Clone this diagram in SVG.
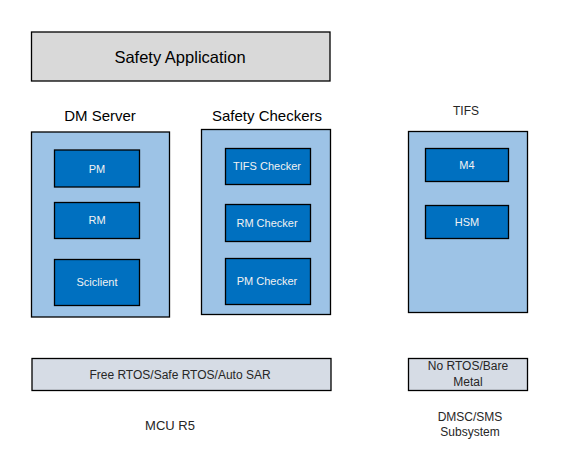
<svg xmlns="http://www.w3.org/2000/svg" width="566" height="453" viewBox="0 0 566 453">
<style>
text{font-family:"Liberation Sans",Arial,sans-serif;text-anchor:middle;dominant-baseline:central}
.gray{fill:#D9D9D9;stroke:#000;stroke-width:1.3}
.os{fill:#D6DCE5;stroke:#000;stroke-width:1.3}
.outer{fill:#9DC3E6;stroke:#000;stroke-width:1.3}
.inner{fill:#0070C0;stroke:#000;stroke-width:1.3}
.it{fill:#F2F2F2;font-size:11px}
.hd{fill:#000;font-size:15px}
.sm{fill:#262626;font-size:12px}
</style>
<rect width="566" height="453" fill="#fff"/>
<g id="safety-application">
<rect class="gray" x="31.5" y="32" width="298.5" height="49"/>
<text class="hd" x="180" y="56.5" style="font-size:16.5px">Safety Application</text>
</g>
<g id="dm-server">
<text class="hd" x="100" y="115">DM Server</text>
<rect class="outer" x="31.5" y="132" width="138" height="185"/>
<g id="pm"><rect class="inner" x="54.5" y="150" width="85" height="37"/><text class="it" x="97" y="168.5">PM</text></g>
<g id="rm"><rect class="inner" x="54.5" y="202.5" width="85" height="36"/><text class="it" x="97" y="220">RM</text></g>
<g id="sciclient"><rect class="inner" x="54.5" y="259.5" width="85" height="46"/><text class="it" x="97" y="282">Sciclient</text></g>
</g>
<g id="safety-checkers">
<text class="hd" x="267" y="115">Safety Checkers</text>
<rect class="outer" x="201.5" y="129.5" width="129" height="185"/>
<g id="tifs-checker"><rect class="inner" x="225.5" y="148.5" width="85" height="36"/><text class="it" x="267" y="166">TIFS Checker</text></g>
<g id="rm-checker"><rect class="inner" x="225.5" y="204.5" width="85" height="37"/><text class="it" x="267" y="223">RM Checker</text></g>
<g id="pm-checker"><rect class="inner" x="225.5" y="258.5" width="85" height="46"/><text class="it" x="267" y="281">PM Checker</text></g>
</g>
<g id="tifs">
<text class="sm" x="466" y="111">TIFS</text>
<rect class="outer" x="408.5" y="131.5" width="119" height="181"/>
<g id="m4"><rect class="inner" x="425.5" y="148.5" width="83" height="33"/><text class="it" x="467" y="165">M4</text></g>
<g id="hsm"><rect class="inner" x="425.5" y="205.5" width="83" height="33"/><text class="it" x="467" y="222">HSM</text></g>
</g>
<g id="free-rtos">
<rect class="os" x="32" y="358.5" width="299" height="32"/>
<text class="sm" x="180" y="374.5">Free RTOS/Safe RTOS/Auto SAR</text>
</g>
<g id="no-rtos">
<rect class="os" x="408.5" y="358.5" width="119" height="32"/>
<text class="sm" x="468" y="366">No RTOS/Bare</text>
<text class="sm" x="468" y="382">Metal</text>
</g>
<g id="mcu-r5"><text class="sm" x="170" y="425" style="font-size:13px">MCU R5</text></g>
<g id="dmsc"><text class="sm" x="470" y="417" style="font-size:12px">DMSC/SMS</text><text class="sm" x="470" y="432" style="font-size:12px">Subsystem</text></g>
<g id="connectors"></g>
</svg>
